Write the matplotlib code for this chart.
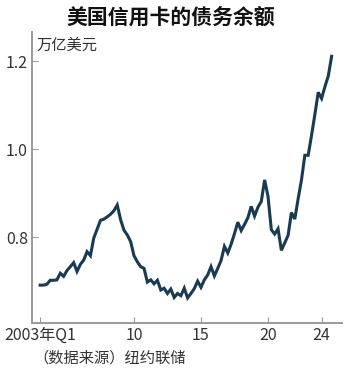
import numpy as np
import matplotlib
matplotlib.use('Agg')
import matplotlib.pyplot as plt

plt.rcParams['font.family'] = ['Noto Sans CJK SC', 'DejaVu Sans']

# ----- data: US credit card balances, trillion USD, 2003Q1 .. 2024Q4 -----
start_year = 2003
balance = [
    0.691, 0.691, 0.693, 0.702,  # 2003
    0.702, 0.703, 0.718, 0.711,  # 2004
    0.724, 0.733, 0.742, 0.722,  # 2005
    0.738, 0.748, 0.767, 0.758,  # 2006
    0.798, 0.818, 0.838, 0.841,  # 2007
    0.846, 0.852, 0.860, 0.873,  # 2008
    0.840, 0.816, 0.805, 0.790,  # 2009
    0.758, 0.744, 0.733, 0.729,  # 2010
    0.698, 0.703, 0.694, 0.702,  # 2011
    0.680, 0.684, 0.672, 0.682,  # 2012
    0.663, 0.672, 0.667, 0.684,  # 2013
    0.662, 0.672, 0.683, 0.700,  # 2014
    0.686, 0.703, 0.714, 0.733,  # 2015
    0.712, 0.729, 0.747, 0.779,  # 2016
    0.764, 0.784, 0.808, 0.834,  # 2017
    0.815, 0.829, 0.844, 0.870,  # 2018
    0.848, 0.868, 0.881, 0.930,  # 2019
    0.893, 0.817, 0.807, 0.819,  # 2020
    0.770, 0.787, 0.804, 0.856,  # 2021
    0.841, 0.887, 0.930, 0.986,  # 2022
    0.986, 1.031, 1.079, 1.129,  # 2023
    1.115, 1.142, 1.166, 1.211,  # 2024
]
tick_years = [2003, 2010, 2015, 2020, 2024]
tick_labels = ['2003年Q1', '10', '15', '20', '24']
y_ticks = [0.8, 1.0, 1.2]
y_labels = ['0.8', '1.0', '1.2']

t = start_year + np.arange(len(balance)) / 4.0

fig = plt.figure(figsize=(3.5, 3.74), dpi=100)
ax = fig.add_axes([0.0914, 0.1364, 0.8856, 0.778])

ax.plot(t, balance, color='#183a52', linewidth=2.2, solid_joinstyle='miter')

ax.set_xlim(2002.39, 2025.52)
ax.set_ylim(0.605, 1.266)

for s in ['top', 'right']:
    ax.spines[s].set_visible(False)
for s in ['left', 'bottom']:
    ax.spines[s].set_color('#9a9a9a')
    ax.spines[s].set_linewidth(1.4)

ax.set_xticks(tick_years)
ax.set_xticklabels(tick_labels)
ax.set_yticks(y_ticks)
ax.set_yticklabels(y_labels)
ax.tick_params(direction='in', length=4, width=0.8, color='#9a9a9a',
               labelsize=11.5, labelcolor='#333333', pad=3)

fig.text(0.487, 0.955, '美国信用卡的债务余额', ha='center', va='center',
         fontsize=15, fontweight='bold', color='#111111')
fig.text(0.103, 0.880, '万亿美元', ha='left', va='center',
         fontsize=11, color='#333333')
fig.text(0.094, 0.043, '（数据来源）纽约联储', ha='left', va='center',
         fontsize=11, color='#333333')

fig.savefig('out.png', dpi=100)
